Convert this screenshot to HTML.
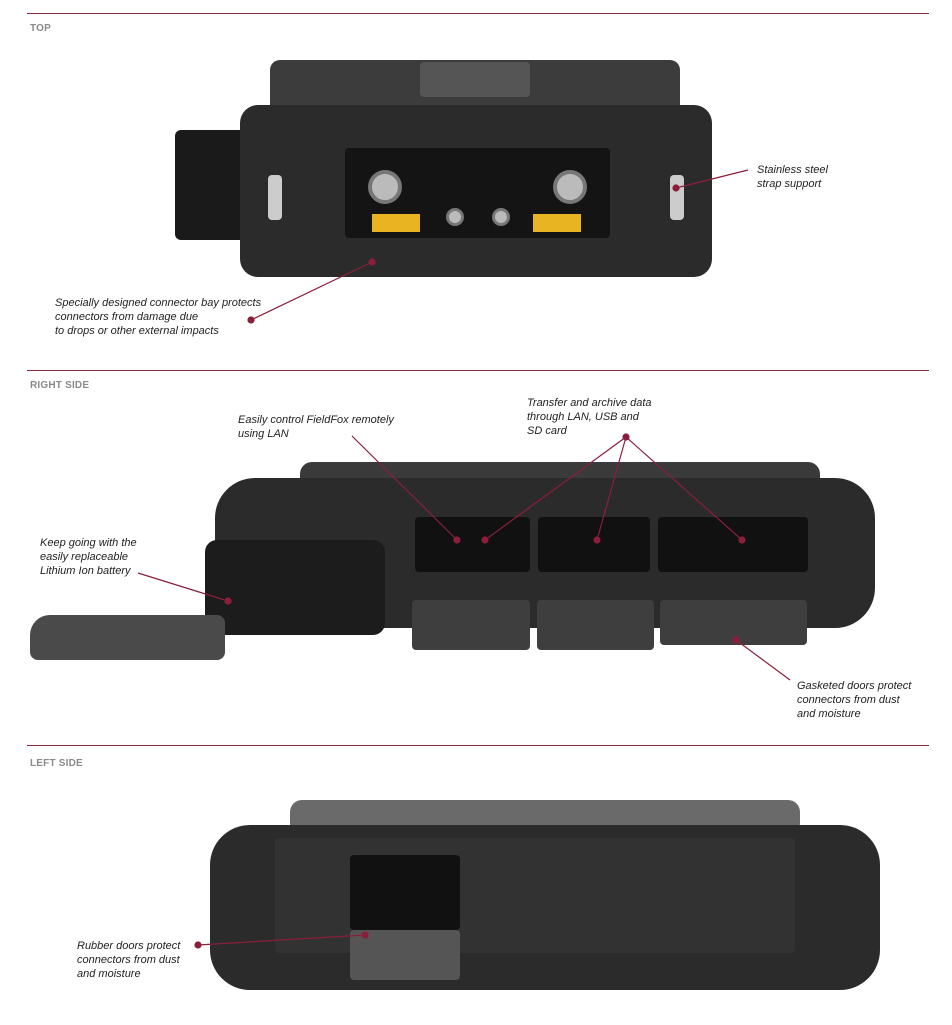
<!DOCTYPE html>
<html><head><meta charset="utf-8"><style>
body{margin:0;width:952px;height:1025px;background:#fff;position:relative;overflow:hidden;font-family:"Liberation Sans",sans-serif}
.hr{position:absolute;left:27px;width:902px;height:1px;background:#8a2740}
.sec{position:absolute;left:30px;font-size:10px;font-weight:bold;color:#8a8a8a;letter-spacing:.2px}
.lbl{position:absolute;font-size:11px;font-style:italic;color:#222;line-height:14px}
.b{position:absolute;background:#2b2b2c;border-radius:18px}
.k{position:absolute;background:#111;border-radius:4px}
.g{position:absolute;background:#4a4a4c;border-radius:4px}
.y{position:absolute;background:#e8b422;font-size:5px;color:#222}
.c{position:absolute;border-radius:50%;background:#bbb;border:4px solid #777}
</style></head><body>
<div class="hr" style="top:13px"></div>
<div class="sec" style="top:23px">TOP</div>
<div class="hr" style="top:370px"></div>
<div class="sec" style="top:380px">RIGHT SIDE</div>
<div class="hr" style="top:745px"></div>
<div class="sec" style="top:758px">LEFT SIDE</div>

<!-- TOP device -->
<div class="g" style="left:270px;top:60px;width:410px;height:60px;border-radius:10px;background:#3c3c3d"></div>
<div class="g" style="left:420px;top:62px;width:110px;height:35px;background:#555"></div>
<div class="k" style="left:175px;top:130px;width:80px;height:110px;background:#1a1a1a;border-radius:6px"></div>
<div class="b" style="left:240px;top:105px;width:472px;height:172px"></div>
<div class="k" style="left:345px;top:148px;width:265px;height:90px;background:#141414"></div>
<div class="c" style="left:368px;top:170px;width:26px;height:26px"></div>
<div class="c" style="left:553px;top:170px;width:26px;height:26px"></div>
<div class="c" style="left:446px;top:208px;width:12px;height:12px;border-width:3px"></div>
<div class="c" style="left:492px;top:208px;width:12px;height:12px;border-width:3px"></div>
<div class="y" style="left:372px;top:214px;width:48px;height:18px"></div>
<div class="y" style="left:533px;top:214px;width:48px;height:18px"></div>
<div class="g" style="left:268px;top:175px;width:14px;height:45px;background:#ccc"></div>
<div class="g" style="left:670px;top:175px;width:14px;height:45px;background:#ccc"></div>

<!-- RIGHT SIDE device -->
<div class="g" style="left:300px;top:462px;width:520px;height:30px;background:#3a3a3a;border-radius:12px"></div>
<div class="b" style="left:215px;top:478px;width:660px;height:150px;border-radius:40px"></div>
<div class="k" style="left:415px;top:517px;width:115px;height:55px"></div>
<div class="k" style="left:538px;top:517px;width:112px;height:55px"></div>
<div class="k" style="left:658px;top:517px;width:150px;height:55px"></div>
<div class="g" style="left:412px;top:600px;width:118px;height:50px;background:#3e3e3e"></div>
<div class="g" style="left:537px;top:600px;width:117px;height:50px;background:#3e3e3e"></div>
<div class="g" style="left:660px;top:600px;width:147px;height:45px;background:#3e3e3e"></div>
<div class="k" style="left:205px;top:540px;width:180px;height:95px;background:#1c1c1c;border-radius:12px"></div>
<div class="g" style="left:30px;top:615px;width:195px;height:45px;background:#4a4a4a;border-radius:20px 8px 8px 8px"></div>

<!-- LEFT SIDE device -->
<div class="g" style="left:290px;top:800px;width:510px;height:35px;background:#6a6a6a;border-radius:12px"></div>
<div class="b" style="left:210px;top:825px;width:670px;height:165px;border-radius:40px"></div>
<div class="g" style="left:275px;top:838px;width:520px;height:115px;background:#323233"></div>
<div class="k" style="left:350px;top:855px;width:110px;height:75px"></div>
<div class="g" style="left:350px;top:930px;width:110px;height:50px;background:#555"></div>

<svg width="952" height="1025" style="position:absolute;left:0;top:0" fill="#8a1f3a" stroke="#8a1f3a" stroke-width="1.2">
<line x1="676" y1="188" x2="748" y2="170"/><circle cx="676" cy="188" r="3"/>
<line x1="251" y1="320" x2="372" y2="262"/><circle cx="251" cy="320" r="3"/><circle cx="372" cy="262" r="3"/>
<line x1="352" y1="436" x2="457" y2="540"/><circle cx="457" cy="540" r="3"/>
<line x1="626" y1="437" x2="485" y2="540"/><line x1="626" y1="437" x2="597" y2="540"/><line x1="626" y1="437" x2="742" y2="540"/>
<circle cx="626" cy="437" r="3"/><circle cx="485" cy="540" r="3"/><circle cx="597" cy="540" r="3"/><circle cx="742" cy="540" r="3"/>
<line x1="138" y1="573" x2="228" y2="601"/><circle cx="228" cy="601" r="3"/>
<line x1="736" y1="640" x2="790" y2="680"/><circle cx="736" cy="640" r="3"/>
<line x1="198" y1="945" x2="365" y2="935"/><circle cx="198" cy="945" r="3"/><circle cx="365" cy="935" r="3"/>
</svg>

<div class="lbl" style="left:757px;top:163px">Stainless steel<br>strap support</div>
<div class="lbl" style="left:55px;top:296px">Specially designed connector bay protects<br>connectors from damage due<br>to drops or other external impacts</div>
<div class="lbl" style="left:238px;top:413px">Easily control FieldFox remotely<br>using LAN</div>
<div class="lbl" style="left:527px;top:396px">Transfer and archive data<br>through LAN, USB and<br>SD card</div>
<div class="lbl" style="left:40px;top:536px">Keep going with the<br>easily replaceable<br>Lithium Ion battery</div>
<div class="lbl" style="left:797px;top:679px">Gasketed doors protect<br>connectors from dust<br>and moisture</div>
<div class="lbl" style="left:77px;top:939px">Rubber doors protect<br>connectors from dust<br>and moisture</div>
</body></html>
